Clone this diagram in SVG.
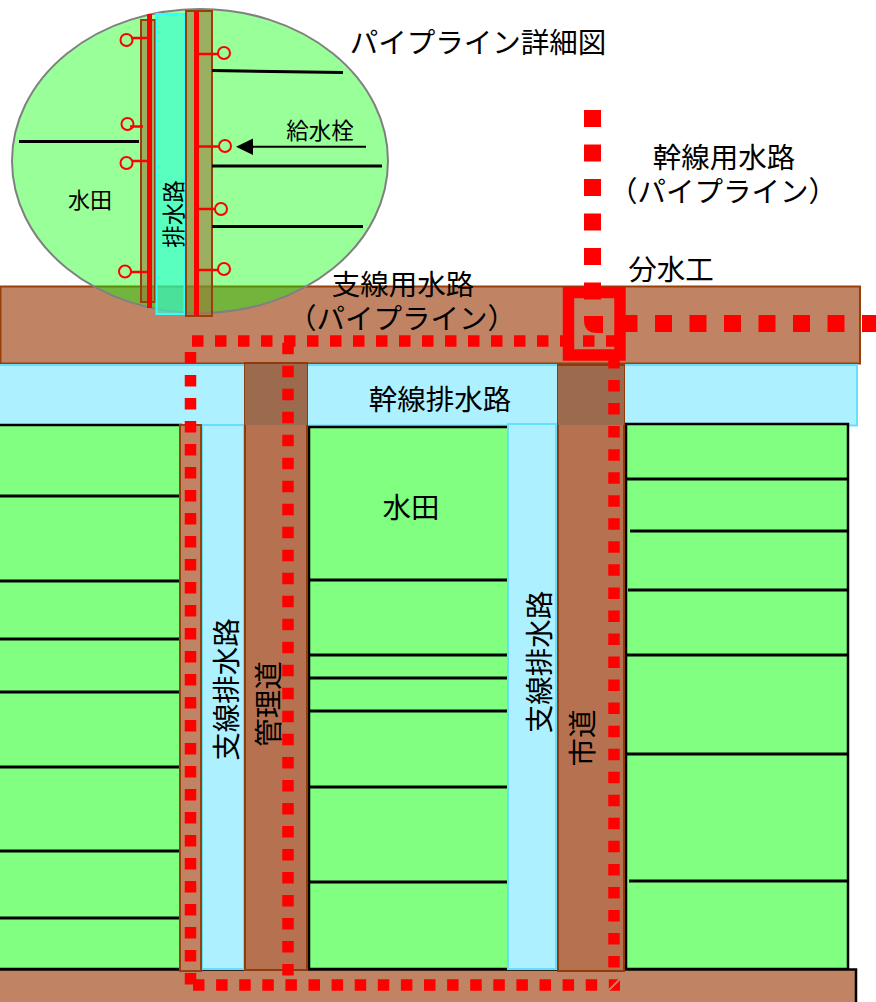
<svg xmlns="http://www.w3.org/2000/svg" width="876" height="1002" viewBox="0 0 876 1002">
<style>
text{font-family:"Liberation Sans","Noto Sans CJK JP",sans-serif;fill:#000}
.f{fill:#80ff80;stroke:#000;stroke-width:2.500}
.l{stroke:#000;stroke-width:3;fill:none}
.d{fill:#adf0ff;stroke:#66dfff;stroke-width:2}
.r{fill:#b57150;stroke:#8f3b0c;stroke-width:2}
.c{fill:#c08464;stroke:#983f0c;stroke-width:2}
.p{stroke:#f00;fill:none}
.h{fill:none;stroke:#f00;stroke-width:2}
.hl{stroke:#f00;stroke-width:2.500;fill:none}
.o{fill:#9b7a3a;fill-opacity:.6;stroke:#983f0c;stroke-width:2}
</style>
<g id="main-canal"><rect class="c" x="0.500" y="286.500" width="859.500" height="77"/></g>
<g id="trunk-drain"><rect class="d" x="-2" y="365" width="859" height="60.500"/><text x="440" y="410" font-size="28.500" text-anchor="middle">幹線排水路</text></g>
<g id="paddy-left"><rect class="f" x="-2" y="425" width="183" height="544"/><path class="l" d="M0 496H181M0 581H181M0 639H181M0 692H181M0 767H181M0 851H181M0 918H181"/></g>
<g id="paddy-mid"><rect class="f" x="309" y="427" width="200" height="542"/><path class="l" d="M309 580H508M309 655H508M309 678H508M309 711H508M309 787H508M309 882H508"/><text x="411" y="518" font-size="28.500" text-anchor="middle">水田</text></g>
<g id="paddy-right"><rect class="f" x="626" y="424" width="222" height="545"/><path class="l" d="M627 479H848M630 531H848M628 590H848M627 655H848M627 754H848M629 881H848"/></g>
<g id="bottom-road"><rect x="-2" y="969.500" width="858" height="40" fill="#c08464" stroke="#000" stroke-width="2.500"/></g>
<g id="drain-1"><rect class="d" x="202" y="425" width="42" height="544"/><text transform="translate(237 689.500) rotate(-90)" font-size="28.500" text-anchor="middle">支線排水路</text></g>
<g id="drain-2"><rect class="d" x="508" y="424" width="48" height="545"/><text transform="translate(550 662) rotate(-90)" font-size="28.500" text-anchor="middle">支線排水路</text></g>
<g id="side-road"><rect class="c" x="180" y="425" width="21" height="546"/></g>
<g id="road-1"><rect class="r" x="245" y="363" width="62" height="607"/><rect x="245" y="364" width="62" height="61" fill="#9c6a4d"/><text transform="translate(279 704) rotate(-90)" font-size="28.500" text-anchor="middle">管理道</text></g>
<g id="road-2"><rect class="r" x="558" y="365" width="66" height="606"/><rect x="558" y="366" width="66" height="59" fill="#9c6a4d"/><text transform="translate(593 738) rotate(-90)" font-size="28.500" text-anchor="middle">市道</text></g>
<g id="connectors">
<path class="p" stroke-width="17" stroke-dasharray="17 17.500" d="M592.500 110V300"/>
<path d="M584 316H603V333H597Q584 333 584 320Z" fill="#f00"/>
<path class="p" stroke-width="17" stroke-dasharray="17 17.500" d="M620.500 323.500H880"/>
<path class="p" stroke-width="11.500" stroke-dasharray="11.500 11.500" d="M192 341H619"/>
<path class="p" stroke-width="11.500" stroke-dasharray="11.500 11.500" d="M190.500 352V986"/>
<path class="p" stroke-width="11.500" stroke-dasharray="11.500 11.510" d="M288 342.700V976"/>
<path class="p" stroke-width="11.500" stroke-dasharray="11.500 11.540" d="M614 357V968"/>
<path class="p" stroke-width="11.500" stroke-dasharray="11.500 11.600" d="M193 985H620"/>
<path d="M608 991L620 979" stroke="#c08464" stroke-width="2" fill="none"/>
</g>
<g id="junction"><rect x="568.500" y="292.500" width="51.500" height="62.500" fill="none" stroke="#f00" stroke-width="11.500"/></g>
<g id="detail">
<ellipse cx="200" cy="161" rx="188" ry="152" fill="#00ff00" fill-opacity=".4" stroke="#808080" stroke-width="2"/>
<rect class="o" x="141" y="20" width="14" height="282"/>
<rect x="156.500" y="14" width="28" height="300" fill="#2fffd9" fill-opacity=".6" stroke="#33ffff" stroke-width="2"/>
<rect class="o" x="186" y="11" width="26" height="305"/>
<path class="p" stroke-width="5" d="M149.500 14V308M196.500 11V316"/>
<path class="hl" d="M131 38H150M130 126.500H143M132 161H147M131 272H150M198 54H218M198 146.500H219M198 209H215M198 270H218"/>
<circle class="h" cx="126.500" cy="40" r="6"/><circle class="h" cx="127.500" cy="124" r="6"/><circle class="h" cx="126.500" cy="163" r="6"/><circle class="h" cx="125" cy="271.500" r="6"/>
<circle class="h" cx="224" cy="53" r="6"/><circle class="h" cx="225" cy="146" r="6"/><circle class="h" cx="221" cy="209" r="6"/><circle class="h" cx="224" cy="269" r="6"/>
<path class="l" d="M19 141.500H139M212 70.500L343 72.500M212 166H382M212 226.500H363"/>
<path stroke="#000" stroke-width="2" d="M250 146.700H366"/><path d="M236 146.700L253 138.500V155Z"/>
<text x="90" y="208" font-size="22" text-anchor="middle">水田</text>
<text transform="translate(182 214) rotate(-90)" font-size="22.500" text-anchor="middle">排水路</text>
<text x="320" y="139" font-size="22.500" text-anchor="middle">給水栓</text>
</g>
<g font-size="28.500">
<text x="478" y="53" text-anchor="middle">パイプライン詳細図</text>
<text x="724" y="168" text-anchor="middle">幹線用水路</text>
<text x="723" y="202" text-anchor="middle">（パイプライン）</text>
<text x="671" y="280" text-anchor="middle">分水工</text>
<text x="403" y="295" text-anchor="middle">支線用水路</text>
<text x="402" y="329" text-anchor="middle">（パイプライン）</text>
</g>
</svg>
